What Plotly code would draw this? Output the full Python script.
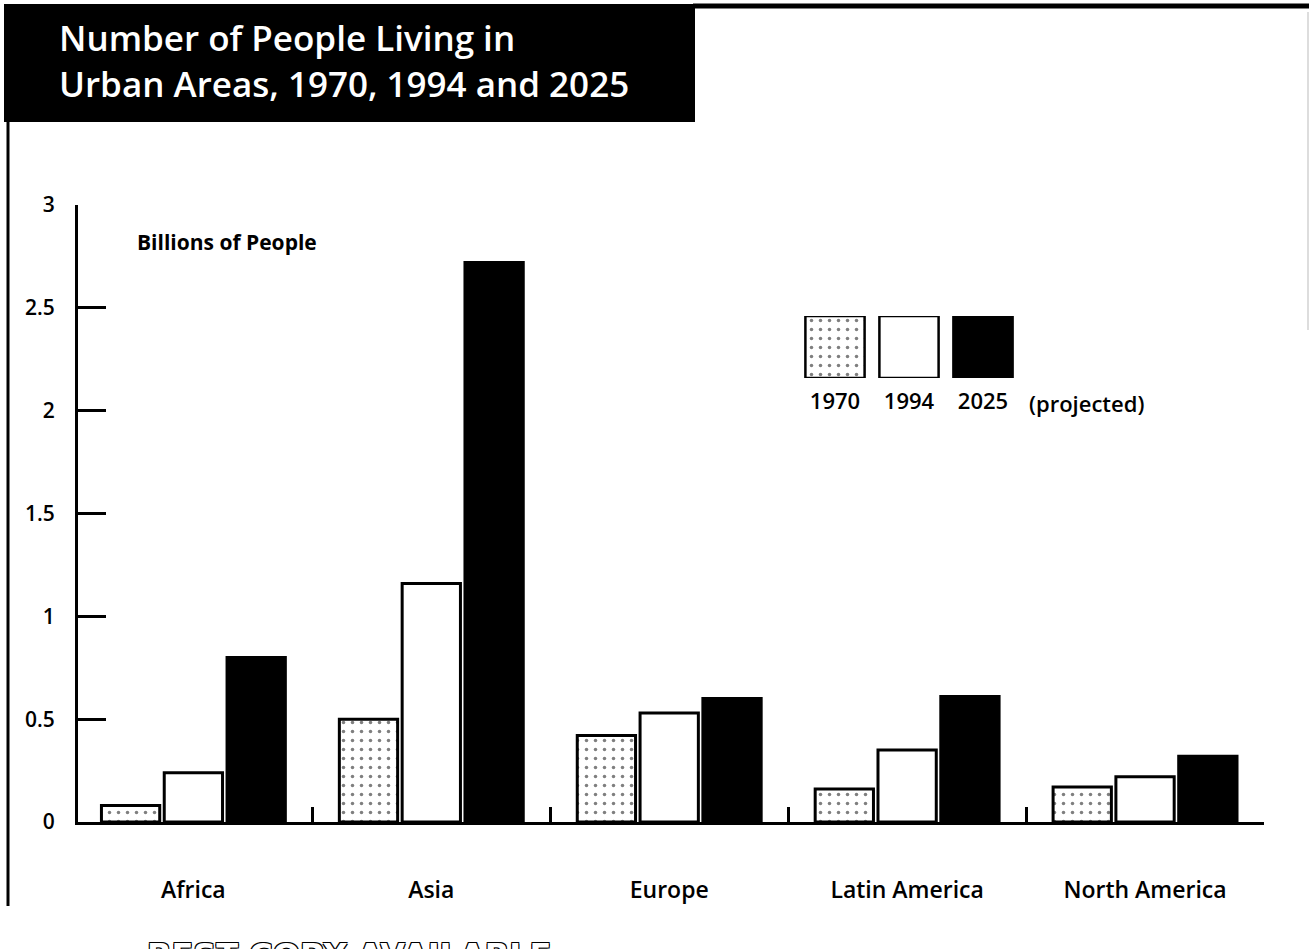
import plotly.graph_objects as go

# Urban population by region, billions of people
regions = ["Africa", "Asia", "Europe", "Latin America", "North America"]
years = ["1970", "1994", "2025"]
pop_1970 = [0.08, 0.50, 0.42, 0.16, 0.17]
pop_1994 = [0.24, 1.16, 0.53, 0.35, 0.22]
pop_2025 = [0.80, 2.72, 0.60, 0.61, 0.32]
y_ticks = [0, 0.5, 1, 1.5, 2, 2.5, 3]
y_tick_labels = ["0", "0.5", "1", "1.5", "2", "2.5", "3"]

W, H = 1309, 949
ML, MR, MT, MB = 78, 45, 205, 127
PW, PH = W - ML - MR, H - MT - MB

FONT = "Open Sans"


def px(x):
    return (x - ML) / PW


def py(y):
    return 1 - (y - MT) / PH


stipple = dict(shape=".", fgcolor="black", bgcolor="white", size=9, solidity=0.12)
styles = {
    "1970": dict(color="white", pattern=stipple, line=dict(color="black", width=3)),
    "1994": dict(color="white", line=dict(color="black", width=3)),
    "2025": dict(color="black", line=dict(color="black", width=3)),
}

fig = go.Figure()
for yr, vals in zip(years, [pop_1970, pop_1994, pop_2025]):
    fig.add_trace(go.Bar(x=regions, y=vals, name=yr, marker=styles[yr],
                         showlegend=False, hoverinfo="x+y"))

# Key swatches drawn as bars on their own small axes
for yr in years:
    fig.add_trace(go.Bar(x=[yr], y=[1], xaxis="x2", yaxis="y2", width=0.8,
                         marker=dict(styles[yr], line=dict(color="black", width=2.5)),
                         showlegend=False, hoverinfo="skip"))

fig.update_layout(
    width=W, height=H,
    margin=dict(l=ML, r=MR, t=MT, b=MB),
    paper_bgcolor="white", plot_bgcolor="white",
    barmode="group", bargap=0.208, bargroupgap=0.072,
    font=dict(family=FONT, color="black"),
    xaxis=dict(
        type="category", range=[-0.485, 4.5],
        showline=True, linecolor="black", linewidth=3,
        ticks="inside", tickson="boundaries", ticklen=15, tickwidth=3, tickcolor="black",
        ticklabelstandoff=45,
        tickfont=dict(family=FONT, size=23, color="black", weight=600),
        showgrid=False, zeroline=False,
    ),
    yaxis=dict(
        range=[0, 3],
        showline=True, linecolor="black", linewidth=3,
        ticks="inside", ticklen=28, tickwidth=3, tickcolor="black",
        tickvals=y_ticks, ticktext=y_tick_labels,
        ticklabelstandoff=16,
        tickfont=dict(family=FONT, size=21, color="black", weight=600),
        showgrid=False, zeroline=False,
    ),
    xaxis2=dict(
        type="category", range=[-0.5, 2.5], anchor="y2",
        domain=[px(798), px(1020)],
        showline=False, ticks="", showgrid=False, zeroline=False,
        ticklabelstandoff=8,
        tickfont=dict(family=FONT, size=22, color="black", weight=600),
    ),
    yaxis2=dict(
        range=[0, 1], anchor="x2",
        domain=[py(378), py(316)],
        visible=False,
    ),
)

# Frame: title block, top rule, left rule
fig.add_shape(type="rect", xref="paper", yref="paper",
              x0=px(4), x1=px(695), y0=py(4), y1=py(122),
              fillcolor="black", line=dict(width=0), layer="below")
fig.add_shape(type="line", xref="paper", yref="paper",
              x0=px(693), x1=px(1309), y0=py(6), y1=py(6),
              line=dict(color="black", width=5))
fig.add_shape(type="line", xref="paper", yref="paper",
              x0=px(8), x1=px(8), y0=py(120), y1=py(906),
              line=dict(color="black", width=3))
fig.add_shape(type="line", xref="paper", yref="paper",
              x0=px(1308), x1=px(1308), y0=py(12), y1=py(330),
              line=dict(color="#bbbbbb", width=1))

# Two-line title in the black block
fig.add_annotation(text="Number of People Living in<br>Urban Areas, 1970, 1994 and 2025",
                   xref="paper", yref="paper", x=px(57), y=py(12),
                   xanchor="left", yanchor="top", align="left", showarrow=False,
                   font=dict(family=FONT, size=35, color="white", weight=600))

ann = [
    dict(text="Billions of People", x=px(135), y=py(226), size=21, weight=700),
    dict(text="(projected)", x=px(1027), y=py(386), size=22, weight=600),
]
for a in ann:
    fig.add_annotation(text=a["text"], xref="paper", yref="paper", x=a["x"], y=a["y"],
                       xanchor="left", yanchor="top", showarrow=False,
                       font=dict(family=FONT, size=a["size"], color="black",
                                 weight=a["weight"]))

fig.add_annotation(text="<b>BEST COPY AVAILABLE</b>", xref="paper", yref="paper",
                   x=px(145), y=py(934), xanchor="left", yanchor="top", showarrow=False,
                   font=dict(family="DejaVu Sans", size=32, color="white",
                             shadow="1px 1px 0 #000, -1px -1px 0 #000, 1px -1px 0 #000, -1px 1px 0 #000"))

fig.write_html("out.html")
